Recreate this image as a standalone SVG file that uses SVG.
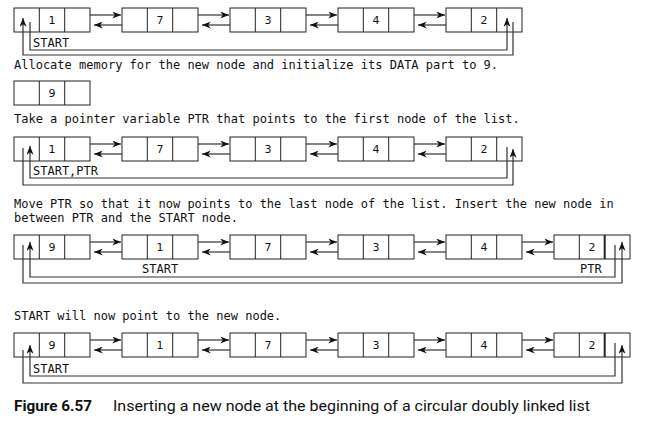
<svg xmlns="http://www.w3.org/2000/svg" width="645" height="422" viewBox="0 0 645 422">
<style>
.box{fill:#fff;stroke:#222;stroke-width:1}
.div{stroke:#222;stroke-width:1}
.num{font-family:"DejaVu Sans",sans-serif;font-size:11px;fill:#111;text-anchor:middle}
.mono{font-family:"DejaVu Sans Mono",monospace;font-size:12px;fill:#111}
.ln{fill:none;stroke:#333;stroke-width:1.2}
.ar{fill:none;stroke:#333;stroke-width:1.2;marker-end:url(#ah)}
.capb{font-family:"Roboto","Liberation Sans",sans-serif;font-weight:bold;font-size:15px;fill:#111}
.cap{font-family:"Roboto","Liberation Sans",sans-serif;font-size:15px;fill:#111}
</style>
<defs>
<marker id="ah" viewBox="0 0 10 8" refX="10" refY="4" markerWidth="9" markerHeight="7" markerUnits="userSpaceOnUse" orient="auto">
<path d="M0,0 L10,4 L0,8 L3,4 Z" fill="#111"/>
</marker>
</defs>

<!-- Row 1 -->
<g id="r1n1"><rect class="box" x="14" y="8" width="76" height="24"/><line class="div" x1="39.3" y1="8" x2="39.3" y2="32"/><line class="div" x1="64.7" y1="8" x2="64.7" y2="32"/><text class="num" x="52" y="24">1</text></g>
<g id="r1n2"><rect class="box" x="122" y="8" width="76" height="24"/><line class="div" x1="147.3" y1="8" x2="147.3" y2="32"/><line class="div" x1="172.7" y1="8" x2="172.7" y2="32"/><text class="num" x="160" y="24">7</text></g>
<g id="r1n3"><rect class="box" x="230" y="8" width="76" height="24"/><line class="div" x1="255.3" y1="8" x2="255.3" y2="32"/><line class="div" x1="280.7" y1="8" x2="280.7" y2="32"/><text class="num" x="268" y="24">3</text></g>
<g id="r1n4"><rect class="box" x="338" y="8" width="76" height="24"/><line class="div" x1="363.3" y1="8" x2="363.3" y2="32"/><line class="div" x1="388.7" y1="8" x2="388.7" y2="32"/><text class="num" x="376" y="24">4</text></g>
<g id="r1n5"><rect class="box" x="446" y="8" width="76" height="24"/><line class="div" x1="471.3" y1="8" x2="471.3" y2="32"/><line class="div" x1="496.7" y1="8" x2="496.7" y2="32"/><text class="num" x="484" y="24">2</text></g>
<text class="mono" x="33" y="47">START</text>
<text class="mono" x="14" y="69">Allocate memory for the new node and initialize its DATA part to 9.</text>

<!-- New node -->
<g id="newnode"><rect class="box" x="14" y="81" width="76" height="24"/><line class="div" x1="39.3" y1="81" x2="39.3" y2="105"/><line class="div" x1="64.7" y1="81" x2="64.7" y2="105"/><text class="num" x="52" y="97">9</text></g>
<text class="mono" x="14" y="123">Take a pointer variable PTR that points to the first node of the list.</text>

<!-- Row 2 -->
<g id="r2n1"><rect class="box" x="14" y="137" width="76" height="24"/><line class="div" x1="39.3" y1="137" x2="39.3" y2="161"/><line class="div" x1="64.7" y1="137" x2="64.7" y2="161"/><text class="num" x="52" y="153">1</text></g>
<g id="r2n2"><rect class="box" x="122" y="137" width="76" height="24"/><line class="div" x1="147.3" y1="137" x2="147.3" y2="161"/><line class="div" x1="172.7" y1="137" x2="172.7" y2="161"/><text class="num" x="160" y="153">7</text></g>
<g id="r2n3"><rect class="box" x="230" y="137" width="76" height="24"/><line class="div" x1="255.3" y1="137" x2="255.3" y2="161"/><line class="div" x1="280.7" y1="137" x2="280.7" y2="161"/><text class="num" x="268" y="153">3</text></g>
<g id="r2n4"><rect class="box" x="338" y="137" width="76" height="24"/><line class="div" x1="363.3" y1="137" x2="363.3" y2="161"/><line class="div" x1="388.7" y1="137" x2="388.7" y2="161"/><text class="num" x="376" y="153">4</text></g>
<g id="r2n5"><rect class="box" x="446" y="137" width="76" height="24"/><line class="div" x1="471.3" y1="137" x2="471.3" y2="161"/><line class="div" x1="496.7" y1="137" x2="496.7" y2="161"/><text class="num" x="484" y="153">2</text></g>
<text class="mono" x="33" y="175">START,PTR</text>
<text class="mono" x="14" y="208">Move PTR so that it now points to the last node of the list. Insert the new node in</text>
<text class="mono" x="14" y="222">between PTR and the START node.</text>

<!-- Row 3 -->
<g id="r3n1"><rect class="box" x="14" y="235" width="76" height="24"/><line class="div" x1="39.3" y1="235" x2="39.3" y2="259"/><line class="div" x1="64.7" y1="235" x2="64.7" y2="259"/><text class="num" x="52" y="251">9</text></g>
<g id="r3n2"><rect class="box" x="122" y="235" width="76" height="24"/><line class="div" x1="147.3" y1="235" x2="147.3" y2="259"/><line class="div" x1="172.7" y1="235" x2="172.7" y2="259"/><text class="num" x="160" y="251">1</text></g>
<g id="r3n3"><rect class="box" x="230" y="235" width="76" height="24"/><line class="div" x1="255.3" y1="235" x2="255.3" y2="259"/><line class="div" x1="280.7" y1="235" x2="280.7" y2="259"/><text class="num" x="268" y="251">7</text></g>
<g id="r3n4"><rect class="box" x="338" y="235" width="76" height="24"/><line class="div" x1="363.3" y1="235" x2="363.3" y2="259"/><line class="div" x1="388.7" y1="235" x2="388.7" y2="259"/><text class="num" x="376" y="251">3</text></g>
<g id="r3n5"><rect class="box" x="446" y="235" width="76" height="24"/><line class="div" x1="471.3" y1="235" x2="471.3" y2="259"/><line class="div" x1="496.7" y1="235" x2="496.7" y2="259"/><text class="num" x="484" y="251">4</text></g>
<g id="r3n6"><rect class="box" x="554" y="235" width="76" height="24"/><line class="div" x1="579.3" y1="235" x2="579.3" y2="259"/><line class="div" x1="604.7" y1="235" x2="604.7" y2="259" style="stroke-width:2"/><text class="num" x="592" y="251">2</text></g>
<text class="mono" x="142" y="273">START</text>
<text class="mono" x="580" y="273">PTR</text>
<text class="mono" x="14" y="320">START will now point to the new node.</text>

<!-- Row 4 -->
<g id="r4n1"><rect class="box" x="14" y="333" width="76" height="24"/><line class="div" x1="39.3" y1="333" x2="39.3" y2="357"/><line class="div" x1="64.7" y1="333" x2="64.7" y2="357"/><text class="num" x="52" y="349">9</text></g>
<g id="r4n2"><rect class="box" x="122" y="333" width="76" height="24"/><line class="div" x1="147.3" y1="333" x2="147.3" y2="357"/><line class="div" x1="172.7" y1="333" x2="172.7" y2="357"/><text class="num" x="160" y="349">1</text></g>
<g id="r4n3"><rect class="box" x="230" y="333" width="76" height="24"/><line class="div" x1="255.3" y1="333" x2="255.3" y2="357"/><line class="div" x1="280.7" y1="333" x2="280.7" y2="357"/><text class="num" x="268" y="349">7</text></g>
<g id="r4n4"><rect class="box" x="338" y="333" width="76" height="24"/><line class="div" x1="363.3" y1="333" x2="363.3" y2="357"/><line class="div" x1="388.7" y1="333" x2="388.7" y2="357"/><text class="num" x="376" y="349">3</text></g>
<g id="r4n5"><rect class="box" x="446" y="333" width="76" height="24"/><line class="div" x1="471.3" y1="333" x2="471.3" y2="357"/><line class="div" x1="496.7" y1="333" x2="496.7" y2="357"/><text class="num" x="484" y="349">4</text></g>
<g id="r4n6"><rect class="box" x="554" y="333" width="76" height="24"/><line class="div" x1="579.3" y1="333" x2="579.3" y2="357"/><line class="div" x1="604.7" y1="333" x2="604.7" y2="357" style="stroke-width:2"/><text class="num" x="592" y="349">2</text></g>
<text class="mono" x="33" y="373">START</text>

<g id="connectors">
<!-- row 1 -->
<path class="ar" d="M90,15 H121"/><path class="ar" d="M122,25 H94"/>
<path class="ar" d="M198,15 H229"/><path class="ar" d="M230,25 H202"/>
<path class="ar" d="M306,15 H337"/><path class="ar" d="M338,25 H310"/>
<path class="ar" d="M414,15 H445"/><path class="ar" d="M446,25 H418"/>
<path class="ar" d="M30,22 V50 H507 V18"/>
<path class="ar" d="M513,22 V55 H23 V18"/>
<!-- row 2 -->
<path class="ar" d="M90,144 H121"/><path class="ar" d="M122,154 H94"/>
<path class="ar" d="M198,144 H229"/><path class="ar" d="M230,154 H202"/>
<path class="ar" d="M306,144 H337"/><path class="ar" d="M338,154 H310"/>
<path class="ar" d="M414,144 H445"/><path class="ar" d="M446,154 H418"/>
<path class="ar" d="M507,147 V178 H30 V146"/>
<path class="ar" d="M23,148 V185 H513 V149"/>
<!-- row 3 -->
<path class="ar" d="M90,242 H121"/><path class="ar" d="M122,252 H94"/>
<path class="ar" d="M198,242 H229"/><path class="ar" d="M230,252 H202"/>
<path class="ar" d="M306,242 H337"/><path class="ar" d="M338,252 H310"/>
<path class="ar" d="M414,242 H445"/><path class="ar" d="M446,252 H418"/>
<path class="ar" d="M522,242 H553"/><path class="ar" d="M554,252 H526"/>
<path class="ar" d="M615,245 V277 H30 V242"/>
<path class="ar" d="M23,245 V283 H622 V242"/>
<!-- row 4 -->
<path class="ar" d="M90,340 H121"/><path class="ar" d="M122,350 H94"/>
<path class="ar" d="M198,340 H229"/><path class="ar" d="M230,350 H202"/>
<path class="ar" d="M306,340 H337"/><path class="ar" d="M338,350 H310"/>
<path class="ar" d="M414,340 H445"/><path class="ar" d="M446,350 H418"/>
<path class="ar" d="M522,340 H553"/><path class="ar" d="M554,350 H526"/>
<path class="ar" d="M615,343 V376 H30 V345"/>
<path class="ar" d="M23,350 V383 H622 V345"/>
</g>

<text class="capb" x="14" y="411" textLength="78" lengthAdjust="spacingAndGlyphs">Figure 6.57</text>
<text class="cap" x="113" y="411" textLength="477" lengthAdjust="spacingAndGlyphs">Inserting a new node at the beginning of a circular doubly linked list</text>
</svg>
